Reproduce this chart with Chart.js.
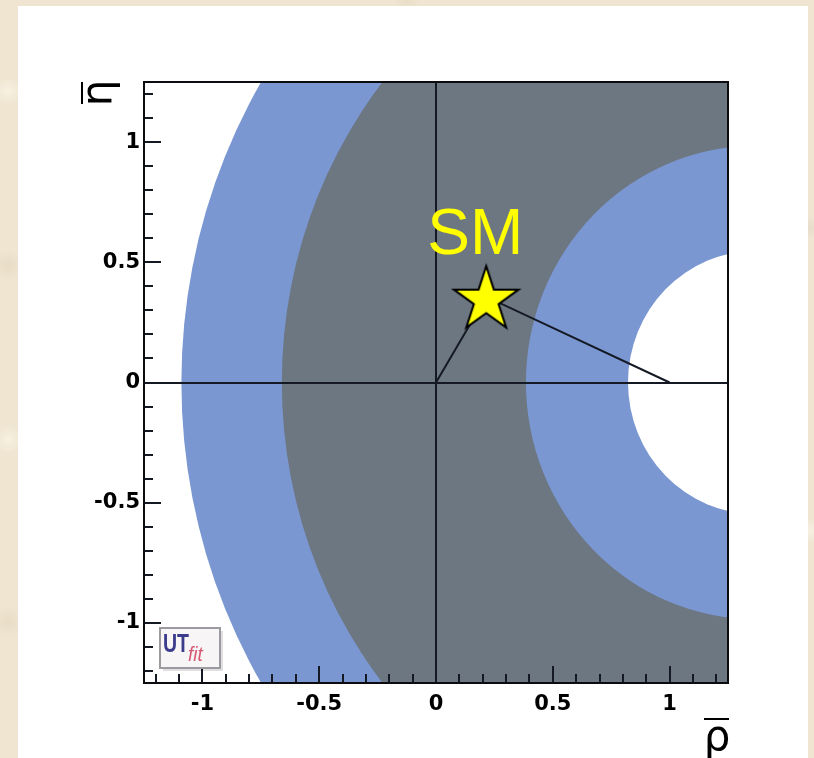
<!DOCTYPE html>
<html>
<head>
<meta charset="utf-8">
<script src="https://cdn.jsdelivr.net/npm/chart.js@4.4.1/dist/chart.umd.min.js"></script>
<style>
  html, body { margin: 0; padding: 0; }
  body {
    width: 814px; height: 758px; overflow: hidden; position: relative;
    background-color: #efe5d1;
    background-image:
      radial-gradient(circle at 1% 12%, rgba(250,244,230,0.8) 0, rgba(250,244,230,0) 14px),
      radial-gradient(circle at 1% 35%, rgba(228,214,190,0.6) 0, rgba(228,214,190,0) 16px),
      radial-gradient(circle at 1% 58%, rgba(250,244,230,0.8) 0, rgba(250,244,230,0) 14px),
      radial-gradient(circle at 1% 82%, rgba(228,214,190,0.6) 0, rgba(228,214,190,0) 16px),
      radial-gradient(circle at 50% 0%, rgba(228,214,190,0.5) 0, rgba(228,214,190,0) 14px),
      radial-gradient(circle at 99.5% 30%, rgba(226,212,196,0.6) 0, rgba(226,212,196,0) 12px),
      radial-gradient(circle at 99.5% 70%, rgba(250,244,236,0.7) 0, rgba(250,244,236,0) 12px);
  }
  #panel { position: absolute; left: 18px; top: 6px; width: 790px; height: 752px; background: #ffffff; }
  #c { position: absolute; left: 0; top: 0; }
</style>
</head>
<body>
<div id="panel"></div>
<canvas id="c" width="814" height="758"></canvas>
<script>
// Allowed regions in the (rho-bar, eta-bar) plane: concentric circles about a common centre
const bandCenter = [1.37, 0];
const bandRadii = [2.46, 2.03, 0.985, 0.548];

// Standard Model point and the unitarity triangle apexes
const smPoint = [0.215, 0.357];
const triangleRho = [0, 0.215, 1];
const triangleEta = [0, 0.357, 0];

// Axis ticks
const axisRange = [-1.25, 1.25];
const majorTicks = [-1, -0.5, 0, 0.5, 1];
const tickLabels = ['-1', '-0.5', '0', '0.5', '1'];
const minorTicks = [-1.2, -1.1, -0.9, -0.8, -0.7, -0.6, -0.4, -0.3, -0.2, -0.1,
                    0.1, 0.2, 0.3, 0.4, 0.6, 0.7, 0.8, 0.9, 1.1, 1.2];

const BLUE = '#7a97d2';
const GRAY = '#6d7781';
const bandFills = [BLUE, GRAY, BLUE, '#ffffff'];
const INK = '#141923';

// Filled five-pointed star used as the SM marker
function makeStar(R) {
  const size = Math.ceil(R * 2 + 6);
  const cv = document.createElement('canvas');
  cv.width = size; cv.height = size;
  const g = cv.getContext('2d');
  const c = size / 2, r = R * 0.382;
  g.beginPath();
  for (let i = 0; i < 10; i++) {
    const rad = i % 2 === 0 ? R : r;
    const a = -Math.PI / 2 + i * Math.PI / 5;
    const px = c + rad * Math.cos(a), py = c + rad * Math.sin(a) + R * 0.1;
    if (i === 0) g.moveTo(px, py); else g.lineTo(px, py);
  }
  g.closePath();
  g.fillStyle = '#ffff00';
  g.fill();
  g.lineWidth = 2;
  g.lineJoin = 'miter';
  g.strokeStyle = '#000000';
  g.stroke();
  return cv;
}

const bandsPlugin = {
  id: 'bands',
  beforeDraw(chart) {
    const { ctx, chartArea: a, scales: { x, y } } = chart;
    ctx.save();
    ctx.beginPath();
    ctx.rect(a.left, a.top, a.right - a.left, a.bottom - a.top);
    ctx.clip();
    ctx.fillStyle = '#ffffff';
    ctx.fillRect(a.left, a.top, a.right - a.left, a.bottom - a.top);
    const cx = x.getPixelForValue(bandCenter[0]);
    const cy = y.getPixelForValue(bandCenter[1]);
    bandRadii.forEach((r, i) => {
      const rx = x.getPixelForValue(bandCenter[0] + r) - cx;
      const ry = cy - y.getPixelForValue(bandCenter[1] + r);
      ctx.beginPath();
      ctx.ellipse(cx, cy, rx, ry, 0, 0, Math.PI * 2);
      ctx.fillStyle = bandFills[i];
      ctx.fill();
    });
    ctx.restore();
  }
};

const framePlugin = {
  id: 'frame',
  afterDraw(chart) {
    const { ctx, chartArea: a, scales: { x, y } } = chart;
    ctx.save();
    // inward tick marks
    ctx.strokeStyle = INK;
    ctx.lineWidth = 2;
    const all = majorTicks.map(v => [v, 17]).concat(minorTicks.map(v => [v, 9]));
    all.forEach(([v, len]) => {
      const px = Math.round(x.getPixelForValue(v));
      ctx.beginPath(); ctx.moveTo(px, a.bottom); ctx.lineTo(px, a.bottom - len); ctx.stroke();
      const py = Math.round(y.getPixelForValue(v));
      ctx.beginPath(); ctx.moveTo(a.left, py); ctx.lineTo(a.left + len, py); ctx.stroke();
    });
    // frame
    ctx.strokeStyle = '#0c0c10';
    ctx.lineWidth = 2;
    ctx.strokeRect(a.left, a.top, a.right - a.left, a.bottom - a.top);

    // SM label above the star
    const sx = x.getPixelForValue(smPoint[0]);
    const sy = y.getPixelForValue(smPoint[1]);
    ctx.fillStyle = '#ffff00';
    ctx.font = '64px "Liberation Sans", Arial, sans-serif';
    ctx.textAlign = 'center';
    ctx.textBaseline = 'alphabetic';
    ctx.fillText('SM', sx - 11, sy - 43);

    // axis titles
    ctx.fillStyle = '#000000';
    ctx.font = '42px "DejaVu Sans", sans-serif';
    ctx.textAlign = 'center';
    ctx.fillText('ρ', a.right - 11, a.bottom + 67);
    ctx.strokeStyle = '#000000';
    ctx.lineWidth = 2;
    ctx.beginPath(); ctx.moveTo(a.right - 24, a.bottom + 36); ctx.lineTo(a.right + 1, a.bottom + 36); ctx.stroke();

    ctx.save();
    ctx.translate(a.left - 33, a.top + 11);
    ctx.rotate(-Math.PI / 2);
    ctx.fillText('η', 0, 0);
    ctx.restore();
    ctx.beginPath(); ctx.moveTo(a.left - 62, a.top); ctx.lineTo(a.left - 62, a.top + 22); ctx.stroke();

    // UTfit logo
    const lx = a.left + 16, ly = a.bottom - 55;
    ctx.fillStyle = 'rgba(0,0,0,0.12)';
    ctx.fillRect(lx + 3, ly + 3, 60, 40);
    ctx.fillStyle = '#f7f5f6';
    ctx.fillRect(lx, ly, 60, 40);
    ctx.strokeStyle = '#9c9a9e';
    ctx.lineWidth = 2;
    ctx.strokeRect(lx, ly, 60, 40);
    ctx.textAlign = 'left';
    ctx.save();
    ctx.translate(lx + 3, ly + 24);
    ctx.scale(0.78, 1);
    ctx.fillStyle = '#3c3c8c';
    ctx.font = 'bold 25px "Liberation Sans", Arial, sans-serif';
    ctx.fillText('UT', 0, 0);
    ctx.restore();
    ctx.save();
    ctx.translate(lx + 28, ly + 33);
    ctx.scale(0.9, 1);
    ctx.fillStyle = '#d65a72';
    ctx.font = 'italic 21px "Liberation Sans", Arial, sans-serif';
    ctx.fillText('fit', 0, 0);
    ctx.restore();
    ctx.restore();
  }
};

function axisTicks(scale) {
  scale.ticks = majorTicks.concat(minorTicks).sort((p, q) => p - q).map(v => ({ value: v }));
}
function labelFor(v) {
  const i = majorTicks.findIndex(m => Math.abs(m - v) < 1e-9);
  return i >= 0 ? tickLabels[i] : '';
}
const zeroGrid = {
  drawTicks: false,
  lineWidth: 2,
  color: (c) => (c.tick && Math.abs(c.tick.value) < 1e-9) ? INK : 'rgba(0,0,0,0)'
};
const tickFont = { family: '"DejaVu Sans", sans-serif', size: 21, weight: 'bold' };

new Chart(document.getElementById('c'), {
  type: 'scatter',
  data: {
    datasets: [
      {
        label: 'SM',
        data: [{ x: smPoint[0], y: smPoint[1] }],
        pointStyle: makeStar(34),
        pointRadius: 34,
        showLine: false
      },
      {
        label: 'triangle',
        data: triangleRho.map((r, i) => ({ x: r, y: triangleEta[i] })),
        showLine: true,
        borderColor: INK,
        borderWidth: 2,
        pointRadius: 0,
        fill: false
      }
    ]
  },
  options: {
    responsive: false,
    animation: false,
    events: [],
    layout: { padding: { left: 84, right: 86, top: 82, bottom: 25 } },
    plugins: { legend: { display: false }, tooltip: { enabled: false } },
    scales: {
      x: {
        type: 'linear', min: axisRange[0], max: axisRange[1],
        afterBuildTicks: axisTicks,
        afterFit: (s) => { s.height = 50; },
        grid: zeroGrid,
        border: { display: false },
        ticks: { autoSkip: false, maxRotation: 0, padding: 9, color: '#000', font: tickFont, callback: labelFor }
      },
      y: {
        type: 'linear', min: axisRange[0], max: axisRange[1],
        afterBuildTicks: axisTicks,
        afterFit: (s) => { s.width = 60; },
        grid: zeroGrid,
        border: { display: false },
        ticks: { autoSkip: false, padding: 4, color: '#000', font: tickFont, callback: labelFor }
      }
    }
  },
  plugins: [bandsPlugin, framePlugin]
});
</script>
</body>
</html>
